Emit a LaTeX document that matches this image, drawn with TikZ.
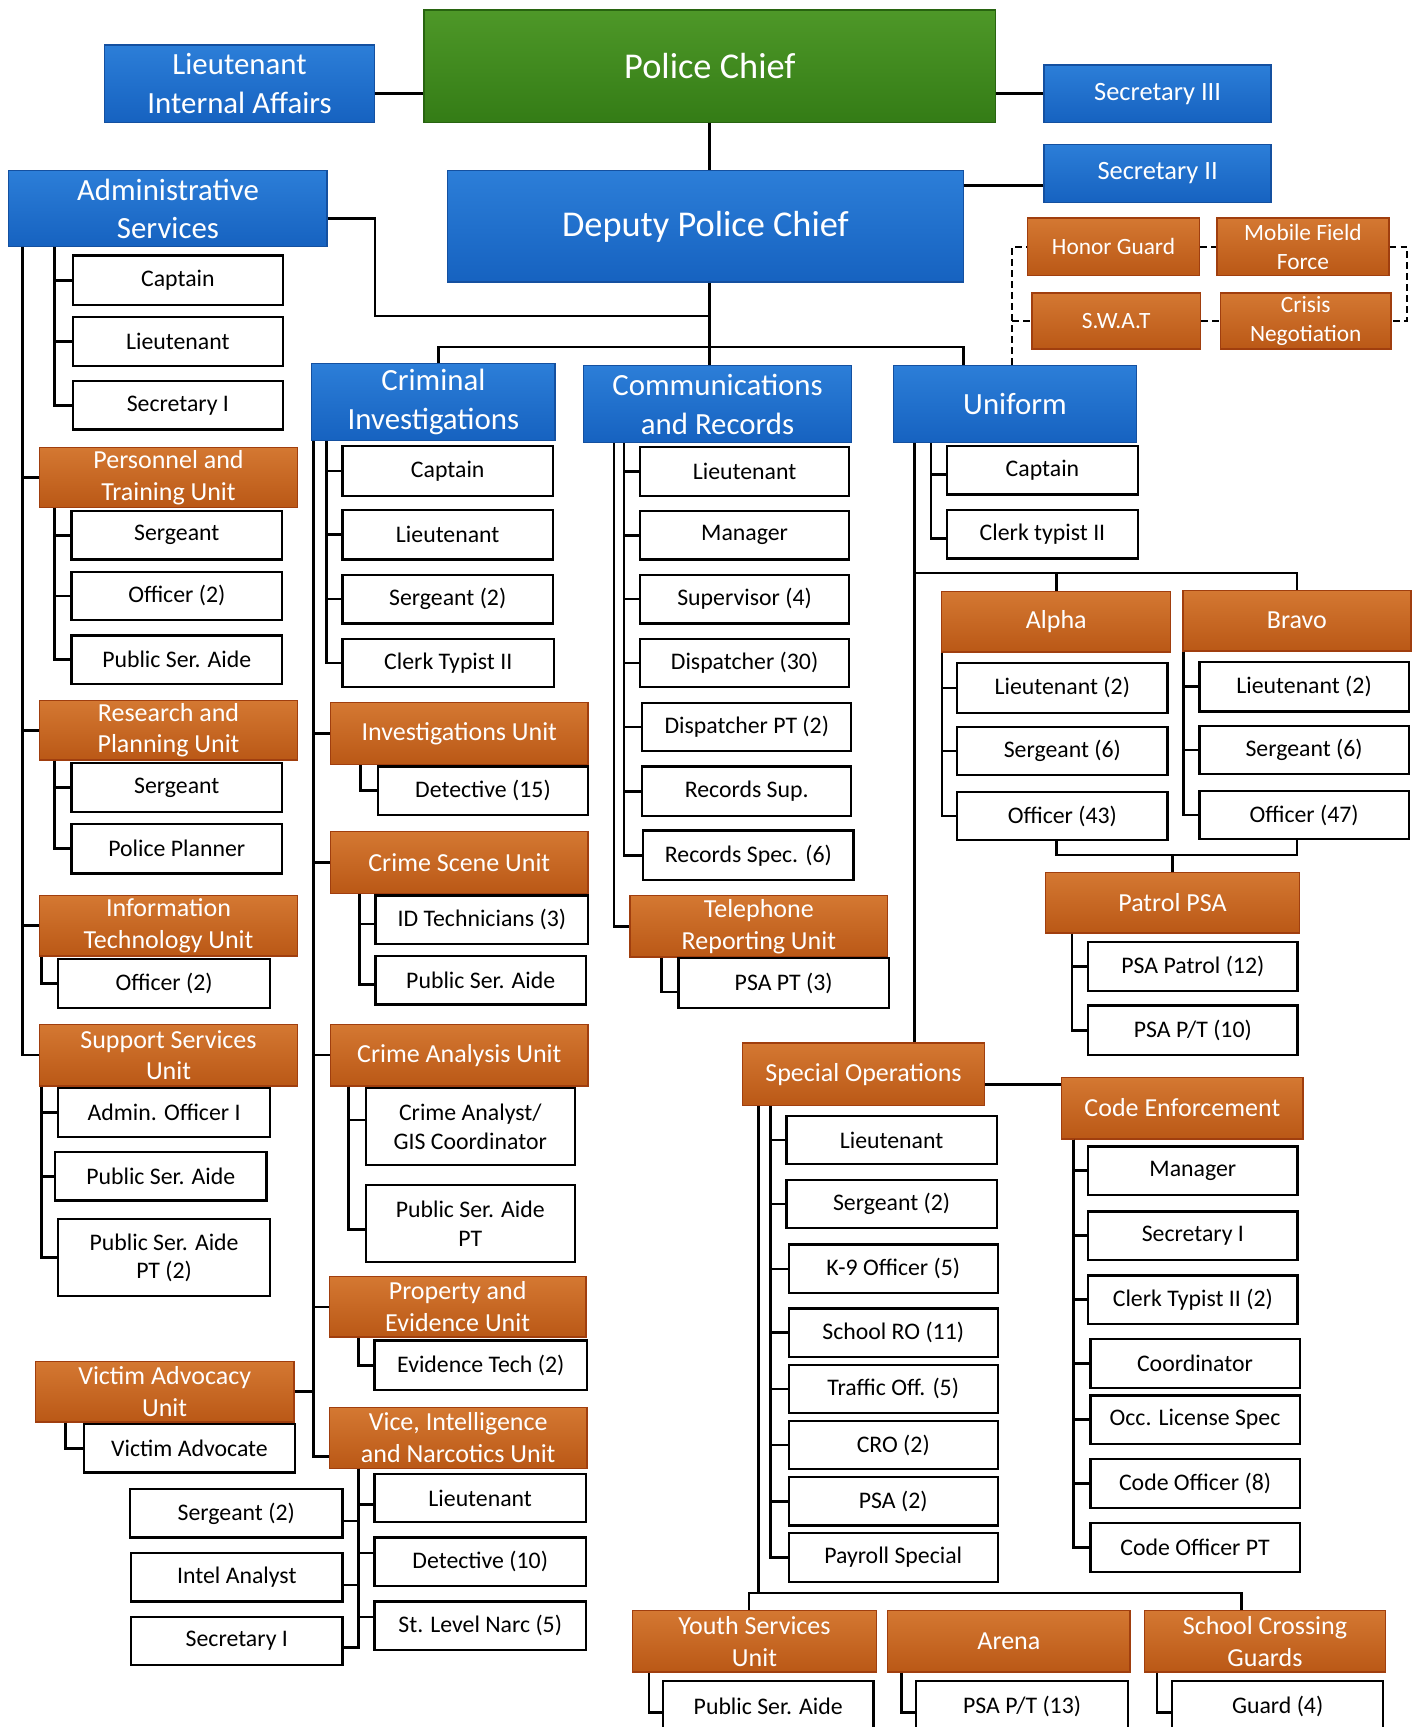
\documentclass[tikz,border=0pt]{standalone}
\usepackage{fontspec}
\setmainfont{Carlito}
\usetikzlibrary{calc}
\definecolor{blueT}{RGB}{44,126,216}
\definecolor{blueB}{RGB}{22,98,192}
\definecolor{blueD}{RGB}{20,80,160}
\definecolor{orT}{RGB}{212,120,50}
\definecolor{orB}{RGB}{186,88,22}
\definecolor{orD}{RGB}{160,62,14}
\definecolor{grT}{RGB}{78,152,40}
\definecolor{grB}{RGB}{52,124,22}
\definecolor{grD}{RGB}{40,100,16}
\newcommand\mkbox[7]{%
  \pgfmathsetmacro\mkbw{(#5-(#3))*0.5}%
  \pgfmathsetmacro\mkbh{(#6-(#4))*0.5}%
  \pgfmathsetmacro\mkbx{(#3+#5)/2}%
  \pgfmathsetmacro\mkby{(#4+#6)/2}%
  \node[#1, minimum width=\mkbw pt, minimum height=\mkbh pt] (#2) at (\mkbx,\mkby) {#7};%
}
\begin{document}
\begin{tikzpicture}[x=0.5pt,y=-0.5pt,
  base/.style={draw, align=center, inner sep=0pt},
  wbox/.style={base, fill=white, draw=black, line width=1pt, font=\fontsize{10.8}{13}\selectfont},
  bbox/.style={base, top color=blueT, bottom color=blueB, draw=blueD, line width=0.6pt, text=white, font=\fontsize{14}{17.5}\selectfont},
  sbox/.style={bbox, font=\fontsize{12}{14}\selectfont},
  tbox/.style={bbox, font=\fontsize{16.5}{20}\selectfont},
  gbox/.style={base, top color=grT, bottom color=grB, draw=grD, line width=0.6pt, text=white, font=\fontsize{16.5}{20}\selectfont},
  obox/.style={base, top color=orT, bottom color=orB, draw=orD, line width=0.6pt, text=white, font=\fontsize{11.8}{14.5}\selectfont},
  sobox/.style={obox, font=\fontsize{10.6}{13}\selectfont},
  ln/.style={line width=1.2pt},
  dln/.style={line width=1.1pt, dash pattern=on 3pt off 2pt},
]
\fill[white] (0,0) rectangle (1286,1568);
\useasboundingbox (0,0) rectangle (1286,1568);

% ---- top level
\mkbox{bbox}{ltia}{95}{41}{340}{111}{Lieutenant\\Internal Affairs}
\mkbox{gbox}{chief}{385}{9}{904}{111}{Police Chief}
\mkbox{sbox}{sec3}{948}{59}{1154}{111}{Secretary III}
\mkbox{sbox}{sec2}{948}{131}{1154}{184}{Secretary II}
\mkbox{tbox}{deputy}{406}{155}{875}{256}{Deputy Police Chief}
\mkbox{bbox}{admin}{8}{155}{297}{224}{Administrative\\Services}
\mkbox{sobox}{honor}{933}{198}{1089}{250}{Honor Guard}
\mkbox{sobox}{mobile}{1105}{198}{1261}{250}{Mobile Field\\Force}
\mkbox{sobox}{swat}{937}{266}{1090}{317}{S.W.A.T}
\mkbox{sobox}{crisis}{1108}{266}{1263}{317}{Crisis\\Negotiation}
\mkbox{bbox}{crim}{283}{330}{504}{400}{Criminal\\Investigations}
\mkbox{bbox}{comm}{530}{332}{773}{402}{Communications\\and Records}
\mkbox{bbox}{unif}{811}{332}{1032}{402}{Uniform}

% ---- administrative column
\mkbox{wbox}{a1}{66}{232}{257}{277}{Captain}
\mkbox{wbox}{a2}{66}{288}{257}{332}{Lieutenant}
\mkbox{wbox}{a3}{66}{346}{257}{390}{Secretary I}
\mkbox{obox}{ptu}{36}{406}{270}{461}{Personnel and\\Training Unit}
\mkbox{wbox}{p1}{65}{464}{256}{508}{Sergeant}
\mkbox{wbox}{p2}{65}{519}{256}{563}{Officer (2)}
\mkbox{wbox}{p3}{65}{577}{256}{621}{Public Ser. Aide}
\mkbox{obox}{rpu}{36}{636}{270}{690}{Research and\\Planning Unit}
\mkbox{wbox}{r1}{65}{693}{256}{737}{Sergeant}
\mkbox{wbox}{r2}{65}{748}{256}{793}{Police Planner}
\mkbox{obox}{itu}{36}{813}{270}{868}{Information\\Technology Unit}
\mkbox{wbox}{i1}{53}{871}{245}{915}{Officer (2)}
\mkbox{obox}{ssu}{36}{930}{270}{986}{Support Services\\Unit}
\mkbox{wbox}{s1}{53}{988}{245}{1032}{Admin. Officer I}
\mkbox{wbox}{s2}{50}{1046}{242}{1090}{Public Ser. Aide}
\mkbox{wbox}{s3}{53}{1107}{245}{1177}{Public Ser. Aide\\PT (2)}
\mkbox{obox}{vau}{32}{1236}{267}{1291}{Victim Advocacy\\Unit}
\mkbox{wbox}{v1}{76}{1293}{268}{1337}{Victim Advocate}
\mkbox{wbox}{vs}{118}{1352}{311}{1396}{Sergeant (2)}
\mkbox{wbox}{vi}{119}{1410}{311}{1454}{Intel Analyst}
\mkbox{wbox}{vsec}{119}{1468}{311}{1512}{Secretary I}

% ---- criminal investigations column
\mkbox{wbox}{c1}{311}{405}{502}{450}{Captain}
\mkbox{wbox}{c2}{311}{463}{502}{508}{Lieutenant}
\mkbox{wbox}{c3}{311}{522}{502}{566}{Sergeant (2)}
\mkbox{wbox}{c4}{311}{580}{503}{624}{Clerk Typist II}
\mkbox{obox}{ivu}{300}{638}{534}{694}{Investigations Unit}
\mkbox{wbox}{iv1}{343}{696}{534}{740}{Detective (15)}
\mkbox{obox}{csu}{300}{755}{534}{811}{Crime Scene Unit}
\mkbox{wbox}{cs1}{341}{813}{534}{857}{ID Technicians (3)}
\mkbox{wbox}{cs2}{341}{868}{532}{912}{Public Ser. Aide}
\mkbox{obox}{cau}{300}{930}{534}{986}{Crime Analysis Unit}
\mkbox{wbox}{ca1}{332}{988}{522}{1058}{Crime Analyst/\\GIS Coordinator}
\mkbox{wbox}{ca2}{332}{1076}{522}{1146}{Public Ser. Aide\\PT}
\mkbox{obox}{peu}{299}{1159}{532}{1214}{Property and\\Evidence Unit}
\mkbox{wbox}{pe1}{340}{1217}{533}{1262}{Evidence Tech (2)}
\mkbox{obox}{vnu}{299}{1278}{533}{1333}{Vice, Intelligence\\and Narcotics Unit}
\mkbox{wbox}{vn1}{340}{1338}{532}{1382}{Lieutenant}
\mkbox{wbox}{vn2}{340}{1396}{532}{1440}{Detective (10)}
\mkbox{wbox}{vn3}{340}{1454}{532}{1498}{St. Level Narc (5)}

% ---- communications column
\mkbox{wbox}{m1}{581}{406}{771}{450}{Lieutenant}
\mkbox{wbox}{m2}{581}{464}{771}{508}{Manager}
\mkbox{wbox}{m3}{581}{522}{771}{566}{Supervisor (4)}
\mkbox{wbox}{m4}{581}{580}{771}{624}{Dispatcher (30)}
\mkbox{wbox}{m5}{583}{638}{773}{682}{Dispatcher PT (2)}
\mkbox{wbox}{m6}{583}{696}{773}{741}{Records Sup.}
\mkbox{wbox}{m7}{584}{754}{775}{799}{Records Spec. (6)}
\mkbox{obox}{tru}{572}{813}{806}{869}{Telephone\\Reporting Unit}
\mkbox{wbox}{t1}{616}{870}{807}{915}{PSA PT (3)}

% ---- uniform column
\mkbox{wbox}{u1}{860}{405}{1033}{449}{Captain}
\mkbox{wbox}{u2}{860}{463}{1033}{507}{Clerk typist II}
\mkbox{obox}{alpha}{855}{537}{1063}{592}{Alpha}
\mkbox{obox}{bravo}{1074}{536}{1281}{591}{Bravo}
\mkbox{wbox}{al1}{869}{602}{1060}{647}{Lieutenant (2)}
\mkbox{wbox}{al2}{869}{660}{1060}{704}{Sergeant (6)}
\mkbox{wbox}{al3}{869}{719}{1060}{763}{Officer (43)}
\mkbox{wbox}{br1}{1089}{601}{1279}{646}{Lieutenant (2)}
\mkbox{wbox}{br2}{1089}{659}{1279}{703}{Sergeant (6)}
\mkbox{wbox}{br3}{1089}{718}{1279}{762}{Officer (47)}
\mkbox{obox}{ppsa}{949}{792}{1180}{847}{Patrol PSA}
\mkbox{wbox}{pp1}{988}{855}{1178}{900}{PSA Patrol (12)}
\mkbox{wbox}{pp2}{988}{913}{1178}{958}{PSA P/T (10)}
\mkbox{obox}{spo}{674}{947}{894}{1004}{Special Operations}
\mkbox{wbox}{so1}{714}{1013}{905}{1057}{Lieutenant}
\mkbox{wbox}{so2}{714}{1071}{905}{1115}{Sergeant (2)}
\mkbox{wbox}{so3}{716}{1130}{906}{1174}{K-9 Officer (5)}
\mkbox{wbox}{so4}{716}{1188}{906}{1232}{School RO (11)}
\mkbox{wbox}{so5}{716}{1239}{906}{1283}{Traffic Off. (5)}
\mkbox{wbox}{so6}{716}{1290}{906}{1334}{CRO (2)}
\mkbox{wbox}{so7}{716}{1341}{906}{1385}{PSA (2)}
\mkbox{wbox}{so8}{716}{1392}{906}{1436}{Payroll Special}
\mkbox{obox}{ceu}{964}{978}{1183}{1034}{Code Enforcement}
\mkbox{wbox}{ce1}{988}{1041}{1178}{1085}{Manager}
\mkbox{wbox}{ce2}{988}{1100}{1178}{1144}{Secretary I}
\mkbox{wbox}{ce3}{988}{1158}{1178}{1202}{Clerk Typist II (2)}
\mkbox{wbox}{ce4}{990}{1216}{1180}{1260}{Coordinator}
\mkbox{wbox}{ce5}{990}{1267}{1180}{1311}{Occ. License Spec}
\mkbox{wbox}{ce6}{990}{1325}{1180}{1369}{Code Officer (8)}
\mkbox{wbox}{ce7}{990}{1383}{1180}{1427}{Code Officer PT}
\mkbox{obox}{ysu}{574}{1462}{796}{1518}{Youth Services\\Unit}
\mkbox{obox}{arena}{806}{1462}{1026}{1518}{Arena}
\mkbox{obox}{scg}{1039}{1462}{1258}{1518}{School Crossing\\Guards}
\mkbox{wbox}{y1}{602}{1526}{793}{1572}{Public Ser. Aide}
\mkbox{wbox}{ar1}{832}{1526}{1024}{1572}{PSA P/T (13)}
\mkbox{wbox}{sc1}{1064}{1526}{1256}{1572}{Guard (4)}

% ================= connectors
\coordinate (j1) at (644,287);
\coordinate (j2) at (644,315);
\coordinate (lte) at ([yshift=-4.5pt]ltia.east);
\draw[ln] (lte) -- (lte -| chief.west);
\draw[ln] (sec3.west) -- (sec3.west -| chief.east);
\draw[ln] (chief.south -| j1) -- (deputy.north -| j1);
\coordinate (s2w) at ([yshift=-5.5pt]sec2.west);
\draw[ln] (s2w) -- (s2w -| deputy.east);
\coordinate (ade) at ([yshift=-4.5pt]admin.east);
\draw[ln] (ade) -- ++(43,0) |- (j1);
\draw[ln] (deputy.south -| j1) -- (comm.north -| j1);
\coordinate (cid) at ([xshift=2.25pt]crim.north);
\coordinate (und) at ([xshift=-23.25pt]unif.north);
\draw[ln] (cid) |- (j2) -| (und);

% dashed special teams
\coordinate (udd) at ([xshift=-1.25pt]unif.north);
\draw[dln] (udd) |- (honor.west);
\draw[dln] (udd) |- (swat.west);
\draw[dln] (honor.east) -- (mobile.west);
\draw[dln] (swat.east) -- (crisis.west);
\draw[dln] (mobile.east) -- ++(16,0) |- (crisis.east);

% administrative
\coordinate (ao) at ([xshift=6.5pt]admin.south west);
\coordinate (ai) at ([xshift=21pt]admin.south west);
\foreach \n in {ptu,rpu,itu,ssu} \draw[ln] (ao) |- (\n.west);
\foreach \n in {a1,a2,a3} \draw[ln] (ai) |- (\n.west);
\coordinate (pto) at ([xshift=7pt]ptu.south west);
\foreach \n in {p1,p2,p3} \draw[ln] (pto) |- (\n.west);
\coordinate (rpo) at ([xshift=7pt]rpu.south west);
\foreach \n in {r1,r2} \draw[ln] (rpo) |- (\n.west);
\coordinate (ito) at ([xshift=1pt]itu.south west);
\draw[ln] (ito) |- (i1.west);
\coordinate (sso) at ([xshift=1pt]ssu.south west);
\foreach \n in {s1,s2,s3} \draw[ln] (sso) |- (\n.west);
\coordinate (vao) at ([xshift=14pt]vau.south west);
\draw[ln] (vao) |- (v1.west);

% criminal investigations
\coordinate (co) at ([xshift=1pt]crim.south west);
\coordinate (ci) at ([xshift=7pt]crim.south west);
\foreach \n in {ivu,csu,cau,peu} \draw[ln] (co) |- (\n.west);
\draw[ln] (co) |- ([yshift=-8.5pt]vnu.west);
\draw[ln] (vau.east) -- (vau.east -| co);
\foreach \n in {c1,c2,c3,c4} \draw[ln] (ci) |- (\n.west);
\coordinate (ivo) at ([xshift=14pt]ivu.south west);
\draw[ln] (ivo) |- (iv1.west);
\coordinate (cso) at ([xshift=13.5pt]csu.south west);
\foreach \n in {cs1,cs2} \draw[ln] (cso) |- ([yshift=-2pt]\n.west);
\coordinate (cao) at ([xshift=8.5pt]cau.south west);
\draw[ln] (cao) |- ([yshift=3pt]ca1.west);
\draw[ln] (cao) |- ([yshift=-2.5pt]ca2.west);
\coordinate (peo) at ([xshift=13.5pt]peu.south west);
\draw[ln] (peo) |- (pe1.west);
\coordinate (vo) at ([xshift=13.5pt]vnu.south west);
\draw[ln] (vo) |- ([yshift=-3pt]vn1.west);
\draw[ln] (vo) |- ([yshift=4pt]vn2.west);
\draw[ln] (vo) |- ([yshift=4pt]vn3.west);
\draw[ln] (vo) |- ([yshift=-3.5pt]vs.east);
\draw[ln] (vo) |- ([yshift=-3.5pt]vi.east);
\draw[ln] (vo) |- ([yshift=-3pt]vsec.east);

% communications
\coordinate (mo) at ([xshift=14pt]comm.south west);
\coordinate (mi) at ([xshift=18.5pt]comm.south west);
\draw[ln] (mo) |- (tru.west);
\foreach \n in {m1,m2,m3,m4,m5,m6,m7} \draw[ln] (mi) |- (\n.west);
\coordinate (tro) at ([xshift=14.5pt]tru.south west);
\draw[ln] (tro) |- ([yshift=-4pt]t1.west);

% uniform
\coordinate (uo) at ([xshift=10pt]unif.south west);
\draw[ln] (uo) -- (uo |- spo.north);
\coordinate (ui) at ([xshift=17.5pt]unif.south west);
\foreach \n in {u1,u2} \draw[ln] (ui) |- ([yshift=-2pt]\n.west);
\coordinate (ubar) at ([yshift=8pt]alpha.north);
\draw[ln] (ubar -| uo) -| (bravo.north);
\draw[ln] (ubar) -- (alpha.north);
\coordinate (alo) at ([xshift=0.5pt]alpha.south west);
\foreach \n in {al1,al2,al3} \draw[ln] (alo) |- (\n.west);
\coordinate (bro) at ([xshift=0.5pt]bravo.south west);
\foreach \n in {br1,br2,br3} \draw[ln] (bro) |- (\n.west);
\coordinate (pbar) at ([yshift=7.5pt]ppsa.north);
\draw[ln] (al3.south -| alpha.south) |- (pbar);
\draw[ln] (br3.south -| bravo.south) |- (pbar);
\draw[ln] (pbar) -- (ppsa.north);
\coordinate (ppo) at ([xshift=12.5pt]ppsa.south west);
\foreach \n in {pp1,pp2} \draw[ln] (ppo) |- (\n.west);

% special operations
\coordinate (spe) at ([yshift=-4.5pt]spo.east);
\draw[ln] (spe) -- (spe -| ceu.west);
\coordinate (soo) at ([xshift=7.5pt]spo.south west);
\coordinate (soi) at ([xshift=13pt]spo.south west);
\coordinate (sbar) at ([yshift=7.5pt]ysu.north);
\coordinate (ysd) at ([xshift=-2.5pt]ysu.north);
\coordinate (scd) at ([xshift=-10.75pt]scg.north);
\draw[ln] (soo) -- (soo |- sbar);
\draw[ln] (ysd) -- (ysd |- sbar) -- (scd |- sbar) -- (scd);
\foreach \n in {so1,so2,so3,so4,so5,so6,so7,so8} \draw[ln] (soi) |- (\n.west);
\coordinate (ceo) at ([xshift=5.5pt]ceu.south west);
\foreach \n in {ce1,ce2,ce3,ce4,ce5,ce6,ce7} \draw[ln] (ceo) |- (\n.west);
\coordinate (yso) at ([xshift=8pt]ysu.south west);
\draw[ln] (yso) |- ([yshift=-3pt]y1.west);
\coordinate (aro) at ([xshift=6.5pt]arena.south west);
\draw[ln] (aro) |- ([yshift=-3pt]ar1.west);
\coordinate (sco) at ([xshift=6pt]scg.south west);
\draw[ln] (sco) |- ([yshift=-3pt]sc1.west);
\end{tikzpicture}
\end{document}
